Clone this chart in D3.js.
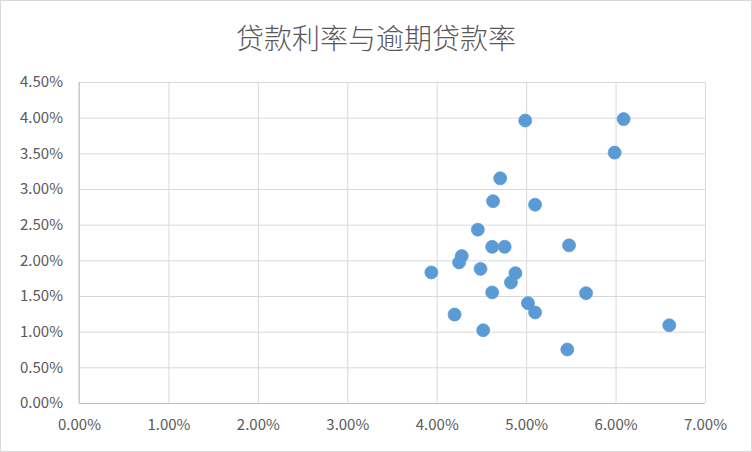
<!DOCTYPE html>
<html><head><meta charset="utf-8">
<script src="https://cdn.jsdelivr.net/npm/d3@7"></script>
<style>
html,body{margin:0;padding:0;background:#fff;}
svg{display:block;}
</style></head>
<body><svg id="c" width="752" height="452"></svg>
<script>
const title = "贷款利率与逾期贷款率";
// 贷款利率 (x) and 逾期贷款率 (y), in %
const loanRate = [4.99,6.09,5.99,4.71,4.63,5.10,4.46,5.48,4.62,4.76,4.28,4.25,3.94,4.49,4.88,4.83,4.62,5.67,5.02,5.10,4.20,4.52,6.60,5.46];
const overdueRate = [3.96,3.98,3.51,3.15,2.83,2.78,2.43,2.21,2.19,2.19,2.06,1.97,1.83,1.88,1.82,1.69,1.55,1.54,1.40,1.27,1.24,1.02,1.09,0.75];
const xTicks = [0,1,2,3,4,5,6,7];
const yTicks = [0,0.5,1,1.5,2,2.5,3,3.5,4,4.5];

const svg = d3.select("#c");
const W = 752, H = 452;
const m = {left:79, right:47, top:82, bottom:49};
const font = "'Noto Sans CJK SC','Noto Sans',sans-serif";

svg.append("rect").attr("x",0.5).attr("y",0.5).attr("width",W-1).attr("height",H-1)
  .attr("fill","#fff").attr("stroke","#d9d9d9");

const x = d3.scaleLinear().domain([0,7]).range([m.left, W-m.right]);
const y = d3.scaleLinear().domain([0,4.5]).range([H-m.bottom, m.top]);

// gridlines
const gx = svg.append("g").attr("transform",`translate(0,${H-m.bottom})`)
  .call(d3.axisBottom(x).tickValues(xTicks).tickSize(-(H-m.bottom-m.top)).tickFormat(d=>d.toFixed(2)+"%").tickPadding(16));
gx.select(".domain").remove();
gx.selectAll("line").attr("stroke","#d9d9d9");
gx.selectAll("text").attr("fill","#595959").style("font-family",font).style("font-size","15px");

const gy = svg.append("g").attr("transform",`translate(${m.left},0)`)
  .call(d3.axisLeft(y).tickValues(yTicks).tickSize(-(W-m.right-m.left)).tickFormat(d=>d.toFixed(2)+"%").tickPadding(16));
gy.select(".domain").remove();
gy.selectAll("line").attr("stroke","#d9d9d9");
gy.selectAll("text").attr("fill","#595959").style("font-family",font).style("font-size","15px");

// axis lines
svg.append("line").attr("x1",m.left).attr("x2",m.left).attr("y1",m.top).attr("y2",H-m.bottom).attr("stroke","#bfbfbf");
svg.append("line").attr("x1",m.left).attr("x2",W-m.right).attr("y1",H-m.bottom+0.5).attr("y2",H-m.bottom+0.5).attr("stroke","#bfbfbf");

// points
svg.append("g").selectAll("circle").data(loanRate.map((v,i)=>[v,overdueRate[i]])).join("circle")
  .attr("cx",d=>x(d[0])).attr("cy",d=>y(d[1])).attr("r",6.5)
  .attr("fill","#5b9bd5").attr("stroke","#5b9bd5").attr("stroke-width",0.75);

svg.append("text").attr("x",W/2).attr("y",49).attr("text-anchor","middle")
  .attr("fill","#595959").style("font-family",font).style("font-size","28px").style("font-weight",300)
  .text(title);
</script></body></html>
